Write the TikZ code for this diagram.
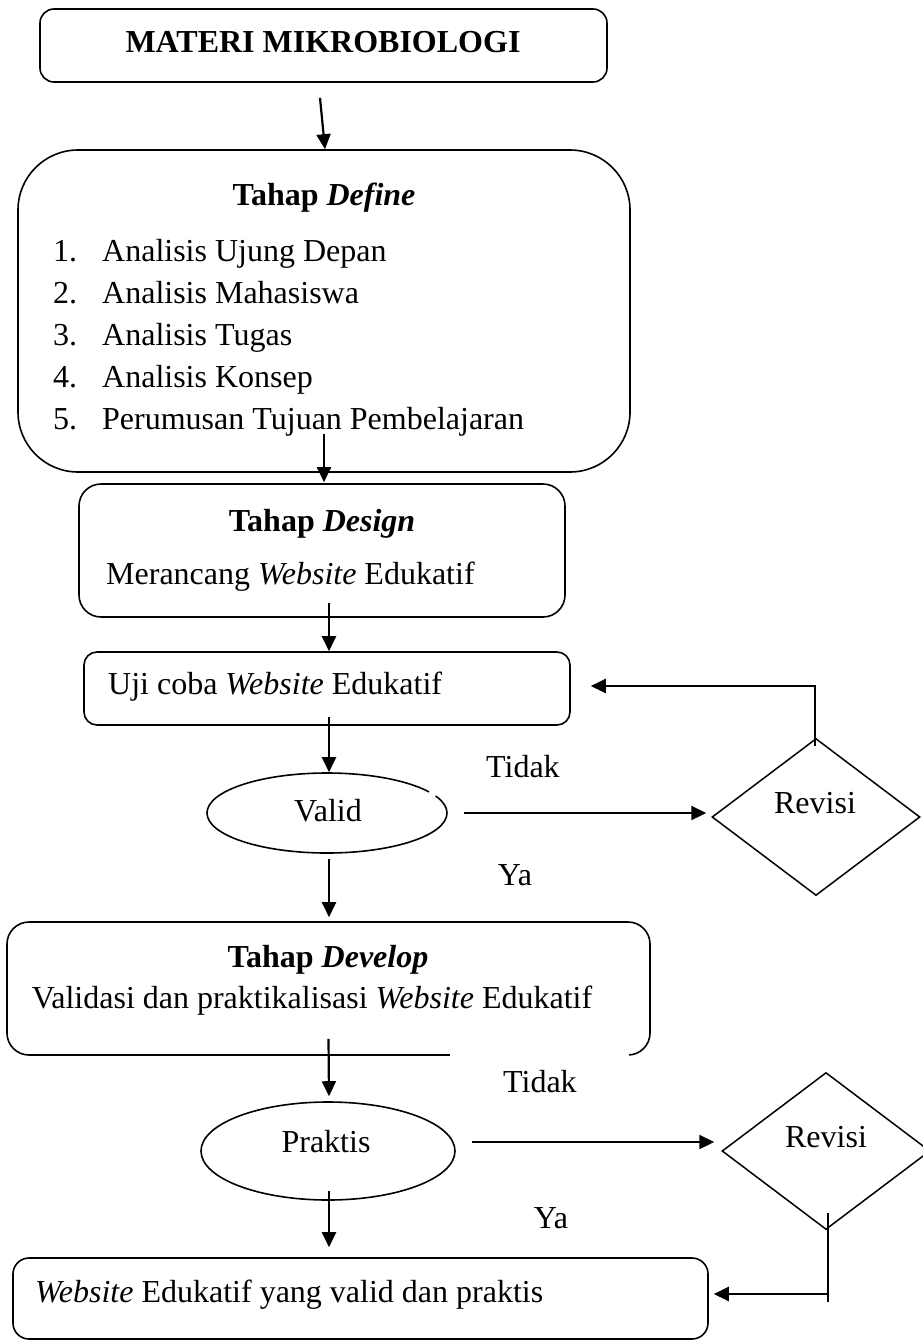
\documentclass[tikz,border=0pt]{standalone}
\usepackage{fontspec}
\setmainfont{Liberation Serif}
\usetikzlibrary{shapes.geometric,arrows.meta}
\begin{document}
\begin{tikzpicture}[x=1pt,y=-1pt,
  font=\fontsize{32}{38}\selectfont,
  box/.style={draw,line width=1.6pt,inner sep=0pt},
  oval/.style={draw,ellipse,line width=1.6pt,inner sep=0pt},
  dia/.style={draw,diamond,line width=1.5pt,inner sep=0pt},
  txt/.style={inner sep=0pt,anchor=base},
  txtl/.style={inner sep=0pt,anchor=base west},
  arr/.style={line width=2.2pt,-{Triangle[length=15pt,width=14pt]}}]
\useasboundingbox (0,0) rectangle (923,1341);

% boxes
\node[box,rounded corners=14pt,minimum width=567pt,minimum height=73pt] (top) at (323.5,45.5) {};
\node[box,rounded corners=60pt,minimum width=612pt,minimum height=322pt] (define) at (324,311) {};
\node[box,rounded corners=22pt,minimum width=486pt,minimum height=133pt] (design) at (322,550.5) {};
\node[box,rounded corners=13pt,minimum width=486pt,minimum height=73pt] (uji) at (327,688.5) {};
\node[oval,minimum width=240pt,minimum height=80pt] (valid) at (327,813) {};
\node[dia,minimum width=208pt,minimum height=157pt] (rev1) at (816,817) {};
\node[box,rounded corners=22pt,minimum width=643pt,minimum height=133pt] (develop) at (328.5,988.5) {};
\node[oval,minimum width=254pt,minimum height=98pt] (praktis) at (328,1151) {};
\node[dia,minimum width=208pt,minimum height=157pt] (rev2) at (826,1151) {};
\node[box,rounded corners=16pt,minimum width=695pt,minimum height=81pt] (final) at (360.5,1298.5) {};

% gaps in the outlines
\draw[white,line width=4pt] (450,1055) -- (629,1055);
\draw[white,line width=3pt] (429.5,791.5) -- (435.5,796);

% texts
\node[txt] (tTop) at (323,52.7) {\textbf{MATERI MIKROBIOLOGI}};
\node[txt] (tDef) at (324,205) {\textbf{Tahap \textit{Define}}};
\node[txtl] (d1) at (53,261) {\makebox[49pt][l]{1.}Analisis Ujung Depan};
\node[txtl] (d2) at (53,303) {\makebox[49pt][l]{2.}Analisis Mahasiswa};
\node[txtl] (d3) at (53,345) {\makebox[49pt][l]{3.}Analisis Tugas};
\node[txtl] (d4) at (53,387) {\makebox[49pt][l]{4.}Analisis Konsep};
\node[txtl] (d5) at (53,429) {\makebox[49pt][l]{5.}Perumusan Tujuan Pembelajaran};
\node[txt] (tDes) at (322,531) {\textbf{Tahap \textit{Design}}};
\node[txtl] (tDes2) at (106,584) {Merancang \textit{Website} Edukatif};
\node[txtl] (tUji) at (108,694) {Uji coba \textit{Website} Edukatif};
\node[txt] (tValid) at (328,821) {Valid};
\node[txtl] (tTidak1) at (486,777) {Tidak};
\node[txt] (tRev1) at (815,813) {Revisi};
\node[txt] (tYa1) at (515,885) {Ya};
\node[txt] (tDev) at (328,967) {\textbf{Tahap \textit{Develop}}};
\node[txt] (tDev2) at (312,1008) {Validasi dan praktikalisasi \textit{Website} Edukatif};
\node[txtl] (tTidak2) at (503,1092) {Tidak};
\node[txt] (tPrak) at (326,1152) {Praktis};
\node[txt] (tRev2) at (826,1147) {Revisi};
\node[txt] (tYa2) at (551,1228) {Ya};
\node[txtl] (tFin) at (35,1302) {\textit{Website} Edukatif yang valid dan praktis};

% connectors
\draw[arr] ([xshift=-3.5pt,yshift=-15pt]top.south) -- ([xshift=1pt]define.north);
\draw[arr] ([yshift=39pt]define.south) -- ([xshift=2pt,yshift=1pt]design.north);
\draw[arr] ([xshift=7pt,yshift=15pt]design.south) -- ([xshift=2pt]uji.north);
\draw[arr] ([xshift=2pt,yshift=9pt]uji.south) -- ([xshift=2pt]valid.north);
\draw[arr] ([xshift=2pt,yshift=-5pt]valid.south) -- ([xshift=0.5pt,yshift=4pt]develop.north);
\draw[arr] ([yshift=17pt]develop.south) -- ([xshift=1pt,yshift=5pt]praktis.north);
\draw[arr] ([xshift=1pt,yshift=10pt]praktis.south) -- ([xshift=-31.5pt,yshift=10pt]final.north);
\draw[arr] ([xshift=16pt]valid.east) -- ([xshift=-5pt,yshift=4pt]rev1.west);
\draw[arr] ([xshift=-1pt,yshift=-8pt]rev1.north) |- ([xshift=20pt,yshift=2.5pt]uji.east);
\draw[arr] ([xshift=16pt,yshift=9pt]praktis.east) -- ([xshift=-7pt,yshift=9pt]rev2.west);
\coordinate (r2end) at (828,1302);
\draw[line width=1.5pt] ([xshift=2pt,yshift=17pt]rev2.south) -- (r2end);
\draw[arr] ([yshift=8pt]r2end) -- ([xshift=5pt,yshift=4.5pt]final.east);
\end{tikzpicture}
\end{document}
